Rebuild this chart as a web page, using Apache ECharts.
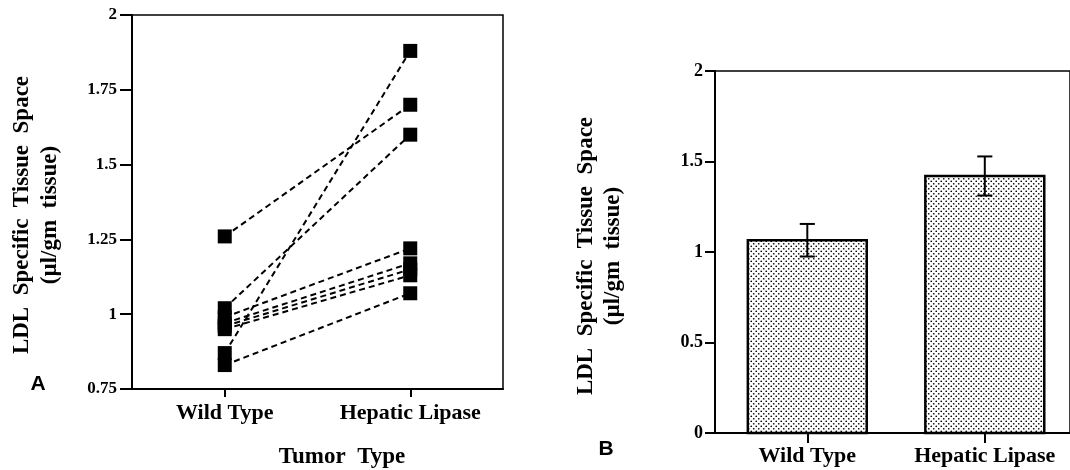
<!DOCTYPE html>
<html>
<head>
<meta charset="utf-8">
<script src="https://cdn.jsdelivr.net/npm/echarts@6/dist/echarts.min.js"></script>
<style>
  html, body { margin: 0; padding: 0; background: #fff; }
  #chart { width: 1070px; height: 470px; }
</style>
</head>
<body>
<div id="chart"></div>
<script>
// ---- Data ----
const categories = ['Wild Type', 'Hepatic Lipase'];
// Panel A: paired values per tumor
const wildType      = [1.26, 1.02, 0.99, 0.97, 0.96, 0.95, 0.87, 0.83];
const hepaticLipase = [1.70, 1.60, 1.22, 1.17, 1.15, 1.13, 1.88, 1.07];
// Panel B: means and error
const barMeans = [1.065, 1.42];
const barErrors = [0.09, 0.108];
// Tick values
const yTicksA = [0.75, 1, 1.25, 1.5, 1.75, 2];
const yTicksB = [0, 0.5, 1, 1.5, 2];

const serif = '"Liberation Serif", "Times New Roman", serif';
const sans = '"Liberation Sans", Arial, sans-serif';

// dotted pattern for bars
const pc = document.createElement('canvas');
pc.width = 5; pc.height = 5;
const pctx = pc.getContext('2d');
pctx.fillStyle = '#fff'; pctx.fillRect(0, 0, 5, 5);
pctx.fillStyle = '#000';
pctx.beginPath(); pctx.arc(1.25, 1.25, 0.85, 0, Math.PI * 2); pctx.fill();
pctx.beginPath(); pctx.arc(3.75, 3.75, 0.85, 0, Math.PI * 2); pctx.fill();
const dotPattern = { image: pc, repeat: 'repeat' };

const chart = echarts.init(document.getElementById('chart'), null, { renderer: 'canvas' });

const lineSeries = wildType.map((w, i) => ({
  type: 'line',
  xAxisIndex: 0, yAxisIndex: 0,
  data: [[0, w], [1, hepaticLipase[i]]],
  symbol: 'rect',
  symbolSize: 14,
  itemStyle: { color: '#000' },
  lineStyle: { color: '#000', width: 2, type: [6, 4] },
  silent: true,
  animation: false
}));

const axisLineStyle = { onZero: false, lineStyle: { color: '#000', width: 2 } };

const option = {
  animation: false,
  backgroundColor: '#fff',
  grid: [
    { left: 132, top: 15, width: 371, height: 374, show: true, borderColor: '#000', borderWidth: 1.5, backgroundColor: 'transparent' },
    { left: 715, top: 71, width: 360, height: 362, show: true, borderColor: '#000', borderWidth: 1.5, backgroundColor: 'transparent' }
  ],
  xAxis: [
    {
      gridIndex: 0, type: 'value', min: -0.5, max: 1.5,
      axisLine: axisLineStyle,
      splitLine: { show: false },
      axisTick: { customValues: [0, 1], length: 8, inside: false, lineStyle: { color: '#000', width: 2 } },
      axisLabel: {
        customValues: [0, 1], margin: 13,
        formatter: v => categories[Math.round(v)],
        color: '#000', fontFamily: serif, fontWeight: 'bold', fontSize: 22
      }
    },
    {
      gridIndex: 1, type: 'value', min: -0.52, max: 1.48,
      axisLine: axisLineStyle,
      splitLine: { show: false },
      axisTick: { customValues: [0, 1], length: 10, inside: false, lineStyle: { color: '#000', width: 2 } },
      axisLabel: {
        customValues: [0, 1], margin: 12,
        formatter: v => categories[Math.round(v)],
        color: '#000', fontFamily: serif, fontWeight: 'bold', fontSize: 22
      }
    }
  ],
  yAxis: [
    {
      gridIndex: 0, type: 'value', min: yTicksA[0], max: yTicksA[yTicksA.length - 1], interval: 0.25,
      axisLine: axisLineStyle,
      splitLine: { show: false },
      axisTick: { length: 12, lineStyle: { color: '#000', width: 2 } },
      axisLabel: { margin: 15, color: '#000', fontFamily: serif, fontWeight: 'bold', fontSize: 17 }
    },
    {
      gridIndex: 1, type: 'value', min: yTicksB[0], max: yTicksB[yTicksB.length - 1], interval: 0.5,
      axisLine: axisLineStyle,
      splitLine: { show: false },
      axisTick: { length: 10, lineStyle: { color: '#000', width: 2 } },
      axisLabel: { margin: 12, color: '#000', fontFamily: serif, fontWeight: 'bold', fontSize: 18 }
    }
  ],
  series: lineSeries.concat([
    {
      type: 'custom',
      xAxisIndex: 1, yAxisIndex: 1,
      data: barMeans.map((m, i) => [i, m]),
      renderItem: function (params, api) {
        const x = api.value(0), y = api.value(1);
        const top = api.coord([x, y]);
        const base = api.coord([x, 0]);
        const w = api.size([1, 0])[0] * 0.67;
        return {
          type: 'rect',
          shape: { x: top[0] - w / 2, y: top[1], width: w, height: base[1] - top[1] },
          style: { fill: dotPattern, stroke: '#000', lineWidth: 2.5 }
        };
      },
      z: 2
    },
    {
      type: 'custom',
      xAxisIndex: 1, yAxisIndex: 1,
      data: barMeans.map((m, i) => [i, m, barErrors[i]]),
      renderItem: function (params, api) {
        const x = api.value(0), m = api.value(1), e = api.value(2);
        const hi = api.coord([x, m + e]);
        const lo = api.coord([x, m - e]);
        const cw = api.size([1, 0])[0] * 0.085;
        const st = { stroke: '#000', lineWidth: 2 };
        return {
          type: 'group',
          children: [
            { type: 'line', shape: { x1: hi[0], y1: hi[1], x2: lo[0], y2: lo[1] }, style: st },
            { type: 'line', shape: { x1: hi[0] - cw / 2, y1: hi[1], x2: hi[0] + cw / 2, y2: hi[1] }, style: st },
            { type: 'line', shape: { x1: lo[0] - cw / 2, y1: lo[1], x2: lo[0] + cw / 2, y2: lo[1] }, style: st }
          ]
        };
      },
      z: 3
    }
  ]),
  graphic: [
    {
      type: 'text', x: 36, y: 215, rotation: Math.PI / 2,
      style: {
        text: 'LDL  Specific  Tissue  Space\n(µl/gm  tissue)',
        fontFamily: serif, fontWeight: 'bold', fontSize: 23, lineHeight: 28,
        fill: '#000', align: 'center', verticalAlign: 'middle'
      }
    },
    {
      type: 'text', x: 600, y: 256, rotation: Math.PI / 2,
      style: {
        text: 'LDL  Specific  Tissue  Space\n(µl/gm  tissue)',
        fontFamily: serif, fontWeight: 'bold', fontSize: 23, lineHeight: 27,
        fill: '#000', align: 'center', verticalAlign: 'middle'
      }
    },
    {
      type: 'text', x: 342, y: 457,
      style: {
        text: 'Tumor  Type', fontFamily: serif, fontWeight: 'bold', fontSize: 23,
        fill: '#000', align: 'center', verticalAlign: 'middle'
      }
    },
    {
      type: 'text', x: 38, y: 384,
      style: { text: 'A', fontFamily: sans, fontWeight: 'bold', fontSize: 21, fill: '#000', align: 'center', verticalAlign: 'middle' }
    },
    {
      type: 'text', x: 606, y: 449,
      style: { text: 'B', fontFamily: sans, fontWeight: 'bold', fontSize: 21, fill: '#000', align: 'center', verticalAlign: 'middle' }
    }
  ]
};

chart.setOption(option);
</script>
</body>
</html>
